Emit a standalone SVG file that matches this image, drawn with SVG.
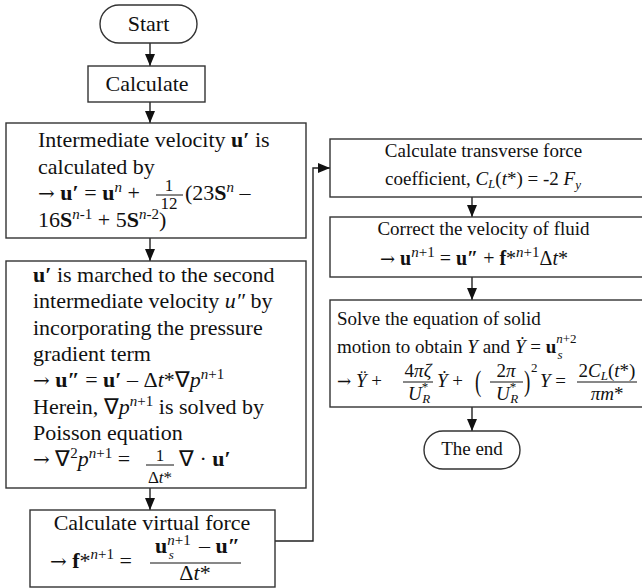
<svg xmlns="http://www.w3.org/2000/svg" width="642" height="588" viewBox="0 0 642 588">
<style>
text{font-family:"Liberation Serif","Times New Roman",serif;fill:#111}
.ar{font-family:"DejaVu Serif",serif}
.L{font-size:22px}
.R{font-size:19px}
.f{font-size:17px}
.s{font-size:15px}
.ss{font-size:13px}
.b{font-weight:bold}
.i{font-style:italic}
.m{text-anchor:middle}
.box{fill:#fff;stroke:#333;stroke-width:1.4}
.ln{fill:none;stroke:#222;stroke-width:1.4}
.bar{stroke:#111;stroke-width:1}
</style>
<defs>
<marker id="ah" markerUnits="userSpaceOnUse" markerWidth="12" markerHeight="10" refX="12" refY="5" orient="auto">
<path d="M0,0 L12,5 L0,10 z" fill="#111"/>
</marker>
</defs>
<rect width="642" height="588" fill="#fff"/>

<g id="connectors">
<line class="ln" x1="150" y1="43" x2="150" y2="66" marker-end="url(#ah)"/>
<line class="ln" x1="150" y1="102" x2="150" y2="123" marker-end="url(#ah)"/>
<line class="ln" x1="150" y1="238" x2="150" y2="261" marker-end="url(#ah)"/>
<line class="ln" x1="150" y1="488" x2="150" y2="510" marker-end="url(#ah)"/>
<polyline class="ln" points="275,541 313,541 313,168 330,168" marker-end="url(#ah)"/>
<line class="ln" x1="472" y1="197" x2="472" y2="217" marker-end="url(#ah)"/>
<line class="ln" x1="472" y1="277" x2="472" y2="300" marker-end="url(#ah)"/>
<line class="ln" x1="472" y1="407" x2="472" y2="431" marker-end="url(#ah)"/>
</g>

<g id="start">
<rect class="box" x="100" y="5" width="97" height="38" rx="19"/>
<text class="L m" x="148.5" y="31">Start</text>
</g>

<g id="calculate">
<rect class="box" x="88" y="66" width="117" height="36"/>
<text class="L m" x="147" y="91">Calculate</text>
</g>

<g id="intermediate">
<rect class="box" x="6" y="123" width="300" height="115"/>
<text class="L" x="38" y="147">Intermediate velocity <tspan class="b">u′</tspan> is</text>
<text class="L" x="38" y="174">calculated by</text>
<text class="L" x="38" y="200"><tspan class="ar" font-size="20">→</tspan> <tspan class="b">u′</tspan> = <tspan class="b">u</tspan><tspan class="s i" dy="-8">n</tspan><tspan dy="8"> +</tspan></text>
<text class="f m" x="169" y="191">1</text>
<line class="bar" x1="156" y1="195" x2="183" y2="195"/>
<text class="f m" x="169" y="209">12</text>
<text class="L" x="185" y="200">(23<tspan class="b">S</tspan><tspan class="s i" dy="-8">n</tspan><tspan dy="8"> –</tspan></text>
<text class="L" x="38" y="227">16<tspan class="b">S</tspan><tspan class="s" dy="-8"><tspan class="i">n</tspan>-1</tspan><tspan dy="8"> + 5</tspan><tspan class="b">S</tspan><tspan class="s" dy="-8"><tspan class="i">n</tspan>-2</tspan><tspan dy="8">)</tspan></text>
</g>

<g id="march">
<rect class="box" x="6" y="261" width="300" height="227"/>
<text class="L" x="33" y="281.5"><tspan class="b">u′</tspan> is marched to the second</text>
<text class="L" x="33" y="308">intermediate velocity <tspan class="i">u″</tspan> by</text>
<text class="L" x="33" y="334.5">incorporating the pressure</text>
<text class="L" x="33" y="361">gradient term</text>
<text class="L" x="33" y="387"><tspan class="ar" font-size="20">→</tspan> <tspan class="b">u″</tspan> = <tspan class="b">u′</tspan> – Δ<tspan class="i">t</tspan>*∇<tspan class="i">p</tspan><tspan class="s" dy="-8"><tspan class="i">n</tspan>+1</tspan></text>
<text class="L" x="33" y="413.5">Herein, ∇<tspan class="i">p</tspan><tspan class="s" dy="-8"><tspan class="i">n</tspan>+1</tspan><tspan dy="8"> is solved by</tspan></text>
<text class="L" x="33" y="440">Poisson equation</text>
<text class="L" x="33" y="466"><tspan class="ar" font-size="20">→</tspan> ∇<tspan class="s" dy="-8">2</tspan><tspan class="i" dy="8">p</tspan><tspan class="s" dy="-8"><tspan class="i">n</tspan>+1</tspan><tspan dy="8"> =</tspan></text>
<text class="f m" x="160" y="461">1</text>
<line class="bar" x1="146" y1="465" x2="174" y2="465"/>
<text class="f m" x="160" y="483">Δ<tspan class="i">t</tspan>*</text>
<text class="L" x="179" y="466">∇ · <tspan class="b">u′</tspan></text>
</g>

<g id="virtual-force">
<rect class="box" x="30" y="510" width="245" height="77"/>
<text class="L m" x="152" y="530">Calculate virtual force</text>
<text class="L" x="50" y="568"><tspan class="ar" font-size="20">→</tspan> <tspan class="b">f</tspan>*<tspan class="s" dy="-9"><tspan class="i">n</tspan>+1</tspan><tspan dy="9"> =</tspan></text>
<text class="L" x="155" y="553"><tspan class="b">u</tspan><tspan class="s" dy="-8"><tspan class="i">n</tspan>+1</tspan><tspan class="ss i" dx="-22" dy="14">s</tspan></text>
<text class="L" x="199" y="553">– <tspan class="b">u″</tspan></text>
<line class="bar" x1="150" y1="563" x2="241" y2="563"/>
<text class="L m" x="195" y="580">Δ<tspan class="i">t</tspan>*</text>
</g>

<g id="transverse">
<rect class="box" x="330" y="139" width="320" height="58"/>
<text class="R m" x="483.5" y="157">Calculate transverse force</text>
<text class="R m" x="483" y="185">coefficient, <tspan class="i">C</tspan><tspan class="ss i" dy="3">L</tspan><tspan dy="-3">(</tspan><tspan class="i">t</tspan>*) = -2 <tspan class="i">F</tspan><tspan class="ss i" dy="4">y</tspan></text>
</g>

<g id="correct">
<rect class="box" x="330" y="217" width="320" height="60"/>
<text class="R m" x="483.5" y="235">Correct the velocity of fluid</text>
<text class="R" x="380" y="265" style="font-size:20px"><tspan class="ar" font-size="18">→</tspan> <tspan class="b">u</tspan><tspan class="s" dy="-8"><tspan class="i">n</tspan>+1</tspan><tspan dy="8"> = </tspan><tspan class="b">u″</tspan> + <tspan class="b">f</tspan>*<tspan class="s" dy="-8"><tspan class="i">n</tspan>+1</tspan><tspan dy="8">Δ</tspan><tspan class="i">t</tspan>*</text>
</g>

<g id="solid-motion">
<rect class="box" x="330" y="300" width="320" height="107"/>
<text class="R" x="337" y="325">Solve the equation of solid</text>
<text class="R" x="337" y="353">motion to obtain <tspan class="i">Y</tspan> and <tspan class="i">Ẏ</tspan> = <tspan class="b">u</tspan><tspan class="ss" dy="-10"><tspan class="i">n</tspan>+2</tspan><tspan class="ss i" dx="-19" dy="16">s</tspan></text>
<text class="R" x="337" y="387"><tspan class="ar" font-size="17">→</tspan> <tspan class="i">Ÿ</tspan> +</text>
<text class="R m" x="418" y="377">4<tspan class="i">πζ</tspan></text>
<line class="bar" x1="403" y1="382" x2="433" y2="382"/>
<text class="R" x="408" y="400"><tspan class="i">U</tspan><tspan class="ss" dy="-9">*</tspan><tspan class="ss i" dx="-6" dy="12">R</tspan></text>
<text class="R" x="437" y="387"><tspan class="i">Ẏ</tspan> +</text>
<text class="R" x="0" y="0" transform="translate(475,391) scale(1,1.55)">(</text>
<text class="R m" x="506" y="377">2<tspan class="i">π</tspan></text>
<line class="bar" x1="490" y1="382" x2="523" y2="382"/>
<text class="R" x="496" y="400"><tspan class="i">U</tspan><tspan class="ss" dy="-9">*</tspan><tspan class="ss i" dx="-6" dy="12">R</tspan></text>
<text class="R" x="0" y="0" transform="translate(524,391) scale(1,1.55)">)</text>
<text class="ss" x="531" y="372">2</text>
<text class="R" x="540" y="387"><tspan class="i">Y</tspan> =</text>
<text class="R m" x="607" y="377">2<tspan class="i">C</tspan><tspan class="ss i" dy="3">L</tspan><tspan dy="-3">(</tspan><tspan class="i">t</tspan>*)</text>
<line class="bar" x1="577" y1="382" x2="637" y2="382"/>
<text class="R m" x="607" y="400"><tspan class="i">πm</tspan>*</text>
</g>

<g id="end">
<rect class="box" x="424" y="431" width="96" height="38" rx="19"/>
<text class="R m" x="472" y="455">The end</text>
</g>
</svg>
